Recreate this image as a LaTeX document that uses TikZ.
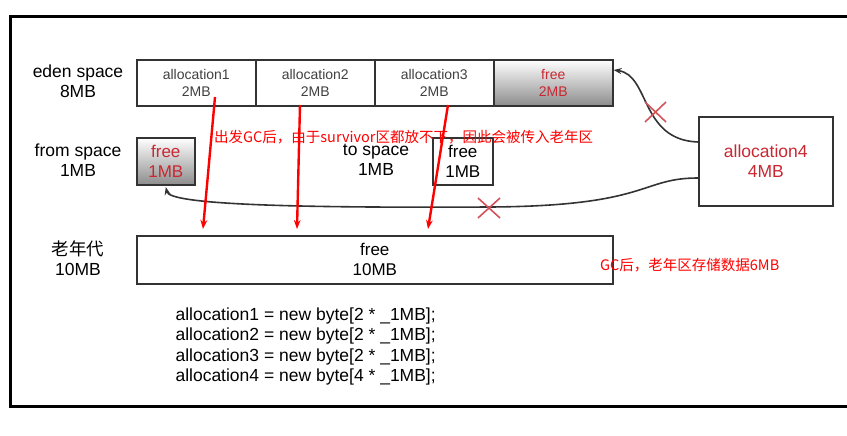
\documentclass[tikz,border=0pt]{standalone}
\usepackage{fontspec}
\setmainfont{Liberation Sans}
\newfontfamily\cjk{Noto Sans CJK SC}
\usetikzlibrary{arrows.meta}
\definecolor{gcred}{RGB}{200,40,50}
\begin{document}
\begin{tikzpicture}[x=1pt, y=-1pt, font=\fontsize{14}{17}\selectfont]
\tikzstyle{cell}=[rectangle, draw=black!80, line width=1.6pt, minimum height=46pt, inner sep=1pt, align=center, text=black!75, anchor=north west]
\tikzstyle{freecell}=[cell, top color=white, bottom color=black!45, text=gcred]
\tikzstyle{lbl}=[align=center, font=\fontsize{17.5}{20}\selectfont]
\tikzstyle{moveline}=[line width=1.6pt, black!80, -{Stealth[length=8pt]}]
\tikzstyle{gcline}=[line width=2.4pt, red, -{Stealth[length=9pt]}]
\tikzstyle{note}=[text=red, font=\cjk\fontsize{14.5}{16}\selectfont, anchor=west, inner sep=0pt]
\tikzstyle{crossmark}=[gcred!80, line width=1.6pt]

\useasboundingbox (0,0) rectangle (847,436);
\draw[line width=3pt] (880,17) -- (10,17) -- (10,406) -- (880,406);

\node[lbl] (Ledn) at (78,81) {eden space\\8MB};
\node[cell, minimum width=119pt] (E1) at (136,59) {allocation1\\2MB};
\node[cell, minimum width=119pt] (E2) at (255,59) {allocation2\\2MB};
\node[cell, minimum width=119pt] (E3) at (374,59) {allocation3\\2MB};
\node[freecell, minimum width=119pt] (E4) at (493,59) {free\\2MB};

\node[lbl] (Lfrom) at (78,160) {from space\\1MB};
\node[freecell, minimum width=58pt, minimum height=47pt, font=\fontsize{17}{20}\selectfont] (F) at (136,137) {free\\1MB};
\node[lbl] (Lto) at (376,160) {to space\\1MB};
\node[cell, minimum width=60pt, minimum height=47pt, text=black, font=\fontsize{17}{20}\selectfont] (T) at (432,137) {free\\1MB};

\node[cell, minimum width=134pt, minimum height=89pt, text=gcred, font=\fontsize{17.5}{20}\selectfont] (A4) at (698,116) {allocation4\\4MB};

\node[lbl] (Lold) at (78,258) {{\cjk 老年代}\\10MB};
\node[cell, minimum width=476pt, minimum height=48pt, text=black, font=\fontsize{17}{20}\selectfont] (O) at (136,235) {free\\10MB};

\coordinate (A4a) at (698,142);
\coordinate (A4b) at (698,178);
\draw[moveline] (A4a) .. controls (640,140) and (650,75) .. (E4.east |- 0,70);
\draw[moveline] (A4b) .. controls (640,178) and (650,206) .. (490,207) .. controls (300,208) and (170,205) .. (F.south |- 0,187);
\draw[crossmark] (645,102) -- (666,122) (645,122) -- (666,102);
\draw[crossmark] (478,198) -- (500,218) (478,218) -- (500,198);

\coordinate (G1) at (215,97);
\coordinate (G2) at (300,105);
\coordinate (G3) at (448,105);
\draw[gcline] (G1) -- (203,229);
\draw[gcline] (G2) -- (297,229);
\draw[gcline] (G3) -- (428,229);

\node[note] (N1) at (214,137) {出发GC后，由于survivor区都放不下，因此会被传入老年区};
\node[note] (N2) at (600,265) {GC后，老年区存储数据6MB};

\node[anchor=north west, align=left, font=\fontsize{17.5}{20.5}\selectfont] (Code) at (172,304)
  {allocation1 = new byte[2 * \_1MB];\\allocation2 = new byte[2 * \_1MB];\\allocation3 = new byte[2 * \_1MB];\\allocation4 = new byte[4 * \_1MB];};
\end{tikzpicture}
\end{document}
